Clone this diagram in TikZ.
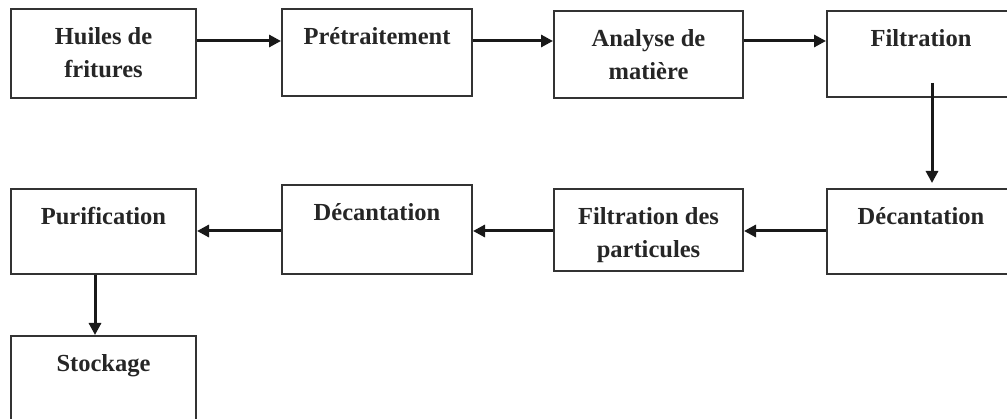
\documentclass[tikz,border=0pt]{standalone}
\usepackage{fontspec}
\setmainfont{Liberation Serif}
\usetikzlibrary{arrows.meta}
\begin{document}
\begin{tikzpicture}[x=1pt,y=-1pt,
  box/.style={draw=black!80, line width=2pt, inner sep=0pt},
  lbl/.style={anchor=north, yshift=-19pt, inner sep=0pt, align=center, text=black!85,
    font=\bfseries\fontsize{24.5}{33}\selectfont},
  arr/.style={draw=black!90, line width=3pt, -{Triangle[length=12pt,width=12pt]}}]
\useasboundingbox (0,0) rectangle (1007,419);
\clip (0,0) rectangle (1007,419);
\node[box, minimum width=185pt, minimum height=89pt, label={[lbl]north:Huiles de\\fritures}] (b1) at (103.5,53.5) {};
\node[box, minimum width=190pt, minimum height=87pt, label={[lbl]north:Prétraitement}] (b2) at (377,52.5) {};
\node[box, minimum width=189pt, minimum height=87pt, label={[lbl]north:Analyse de\\matière}] (b3) at (648.5,54.5) {};
\node[box, minimum width=188pt, minimum height=86pt, label={[lbl]north:Filtration}] (b4) at (921,54) {};
\node[box, minimum width=185pt, minimum height=85pt, label={[lbl]north:Purification}] (b5) at (103.5,231.5) {};
\node[box, minimum width=190pt, minimum height=89pt, label={[lbl]north:Décantation}] (b6) at (377,229.5) {};
\node[box, minimum width=189pt, minimum height=82pt, label={[lbl]north:Filtration des\\particules}] (b7) at (648.5,230) {};
\node[box, minimum width=188pt, minimum height=85pt, label={[lbl]north:Décantation}] (b8) at (921,231.5) {};
\node[box, minimum width=185pt, minimum height=89pt, label={[lbl]north:Stockage}] (b9) at (103.5,380.5) {};
\coordinate (d1) at (932,83);
\draw[arr] (b1.east |- 0,41) -- (b2.west |- 0,41);
\draw[arr] (b2.east |- 0,41) -- (b3.west |- 0,41);
\draw[arr] (b3.east |- 0,41) -- (b4.west |- 0,41);
\draw[arr, shorten >=5pt] (d1) -- (b8.north -| d1);
\draw[arr] (b8.west |- 0,231) -- (b7.east |- 0,231);
\draw[arr] (b7.west |- 0,231) -- (b6.east |- 0,231);
\draw[arr] (b6.west |- 0,231) -- (b5.east |- 0,231);
\draw[arr] (b5.south -| 95,0) -- (b9.north -| 95,0);
\end{tikzpicture}
\end{document}
